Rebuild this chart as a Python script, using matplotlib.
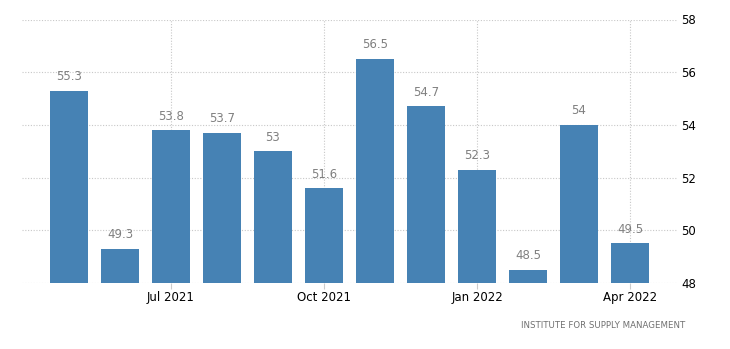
import matplotlib
matplotlib.use("Agg")
import matplotlib.pyplot as plt

# ISM index, May 2021 - Apr 2022
months = ["May 2021", "Jun 2021", "Jul 2021", "Aug 2021", "Sep 2021", "Oct 2021",
          "Nov 2021", "Dec 2021", "Jan 2022", "Feb 2022", "Mar 2022", "Apr 2022"]
values = [55.3, 49.3, 53.8, 53.7, 53.0, 51.6, 56.5, 54.7, 52.3, 48.5, 54.0, 49.5]
labels = ["55.3", "49.3", "53.8", "53.7", "53", "51.6", "56.5", "54.7", "52.3", "48.5", "54", "49.5"]
shown_months = ["Jul 2021", "Oct 2021", "Jan 2022", "Apr 2022"]
source = "INSTITUTE FOR SUPPLY MANAGEMENT"

fig = plt.figure(figsize=(7.3, 3.49), dpi=100)
ax = fig.add_axes([22 / 730, 66 / 349, 655 / 730, 263.5 / 349])

x = list(range(len(months)))
ax.bar(x, values, width=0.745, color="#4682b4", zorder=2)
for xi, v, lab in zip(x, values, labels):
    ax.annotate(lab, (xi, v), xytext=(0, 5.5), textcoords="offset points",
                ha="center", va="bottom", fontsize=8.5, color="#808080")

ax.set_ylim(48, 58)
ax.set_xlim(-0.92, 11.92)
ax.set_yticks([48, 50, 52, 54, 56, 58])
ax.yaxis.tick_right()
ax.tick_params(axis="y", length=0, pad=3, labelsize=8.5, colors="black")

tick_pos = [months.index(m) for m in shown_months]
ax.set_xticks(tick_pos)
ax.set_xticklabels(shown_months)
ax.tick_params(axis="x", length=4, color="#cccccc", pad=2, labelsize=8.5)

ax.grid(True, color="#c8c8c8", linestyle=(0, (1, 1.5)), linewidth=0.8, zorder=0)
for s in ax.spines.values():
    s.set_visible(False)

fig.text(685 / 730, 1 - 325 / 349, source, ha="right", va="center",
         fontsize=6.2, color="#707070")

fig.savefig("out.png", dpi=100)
